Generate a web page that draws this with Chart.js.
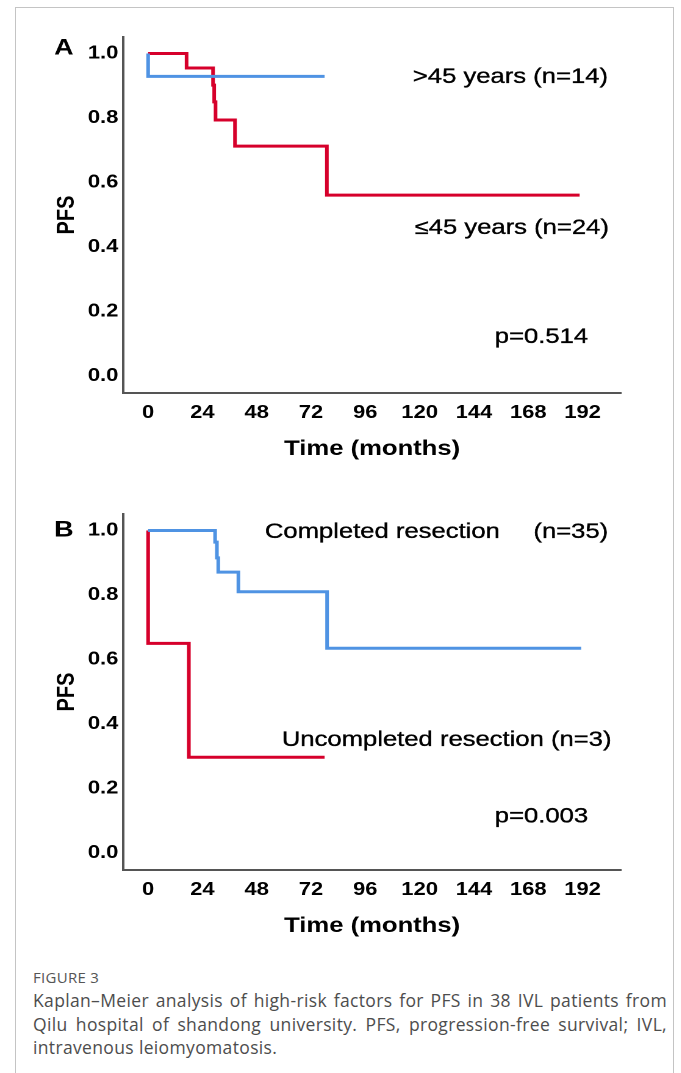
<!DOCTYPE html>
<html>
<head>
<meta charset="utf-8">
<script src="https://cdn.jsdelivr.net/npm/chart.js@4.4.1/dist/chart.umd.min.js"></script>
<style>
  body { margin:0; background:#fff; width:681px; height:1073px; overflow:hidden; position:relative; }
  #frame { position:absolute; left:15px; top:7px; width:659px; height:1200px; box-sizing:border-box; border:1px solid #c4c4c4; }
  .panel { position:absolute; left:0; transform:scaleX(1.22); transform-origin:0 0; }
  #panelA { top:0; }
  #panelB { top:477px; }
  #fig { position:absolute; left:33px; top:967px; font-family:"Open Sans", sans-serif; font-size:15px; color:#555; letter-spacing:0.3px; }
  #caption { position:absolute; left:33px; top:989px; width:634px; font-family:"Open Sans", sans-serif; font-size:17.5px; letter-spacing:0.35px; line-height:23.5px; color:#4d4d4d; }
  #caption div { text-align:justify; text-align-last:justify; white-space:nowrap; }
  #caption div.last { text-align-last:left; }
</style>
</head>
<body>
<div id="frame"></div>
<div class="panel" id="panelA"><canvas id="chartA" width="552" height="470"></canvas></div>
<div class="panel" id="panelB"><canvas id="chartB" width="552" height="470"></canvas></div>
<div id="fig">FIGURE 3</div>
<div id="caption">
  <div>Kaplan–Meier analysis of high-risk factors for PFS in 38 IVL patients from</div>
  <div>Qilu hospital of shandong university. PFS, progression-free survival; IVL,</div>
  <div class="last">intravenous leiomyomatosis.</div>
</div>
<script>
var xTicks = [0, 24, 48, 72, 96, 120, 144, 168, 192];
var yTicks = [0.0, 0.2, 0.4, 0.6, 0.8, 1.0];

// panel A - age
var olderMonths = [0, 0, 78];
var olderPfs = [1.0, 0.929, 0.929];
var youngerMonths = [0, 17, 28.7, 29.2, 29.8, 38.4, 79, 190.7];
var youngerPfs = [1.0, 0.955, 0.902, 0.85, 0.794, 0.713, 0.561, 0.561];

// panel B - resection
var completeMonths = [0, 29.6, 30.4, 31, 39.9, 79.1, 191.4];
var completePfs = [1.0, 0.964, 0.915, 0.871, 0.81, 0.635, 0.635];
var incompleteMonths = [0, 0, 18, 78];
var incompletePfs = [1.0, 0.65, 0.297, 0.297];

var BLUE = '#4f93e3';
var RED = '#d6002b';
var FONT = '"Liberation Sans", Arial, sans-serif';

function makeNotes(items) {
    return {
        id: 'notes',
        afterDraw: function(chart) {
            var ctx = chart.ctx;
            var xs = chart.scales.x, ys = chart.scales.y;
            ctx.save();
            ctx.fillStyle = '#000';
            ctx.strokeStyle = '#000';
            ctx.lineWidth = 0.35;
            ctx.textAlign = 'left';
            ctx.textBaseline = 'middle';
            items.forEach(function(n) {
                ctx.font = n.font;
                var px = xs.getPixelForValue(n.x), py = ys.getPixelForValue(n.y);
                ctx.fillText(n.text, px, py);
                if (!n.bold) ctx.strokeText(n.text, px, py);
            });
            ctx.restore();
        }
    };
}

function curve(months, pfs, color) {
    return {
        data: months.map(function(m, i) { return {x: m, y: pfs[i]}; }),
        borderColor: color,
        borderWidth: 3,
        stepped: true,
        pointRadius: 0,
        fill: false
    };
}

function kmChart(id, datasets, notes) {
    return new Chart(document.getElementById(id), {
        type: 'line',
        data: { datasets: datasets },
        options: {
            responsive: false,
            animation: false,
            devicePixelRatio: 2,
            layout: { padding: { top: 37, right: 43, bottom: 0, left: 0 } },
            plugins: { legend: { display: false }, tooltip: { enabled: false } },
            scales: {
                x: {
                    type: 'linear', min: -11, max: 209,
                    grid: { display: false, drawTicks: false },
                    border: { display: true, color: '#555', width: 2 },
                    afterBuildTicks: function(s) { s.ticks = xTicks.map(function(v) { return {value: v}; }); },
                    afterFit: function(s) { s.height = 77; },
                    ticks: { font: { family: FONT, size: 18, weight: 'bold' }, color: '#000', padding: 9, maxRotation: 0, autoSkip: false },
                    title: { display: true, text: 'Time (months)', font: { family: FONT, size: 21, weight: 'bold' }, color: '#000', padding: { top: 0, bottom: 8 } }
                },
                y: {
                    type: 'linear', min: -0.0527, max: 1.0512,
                    grid: { display: false, drawTicks: false },
                    border: { display: true, color: '#555', width: 2 },
                    afterBuildTicks: function(s) { s.ticks = yTicks.map(function(v) { return {value: v}; }); },
                    afterFit: function(s) { s.width = 101; },
                    ticks: { font: { family: FONT, size: 18, weight: 'bold' }, color: '#000', padding: 4, autoSkip: false,
                             callback: function(v) { return Number(v).toFixed(1); } },
                    title: { display: true, text: 'PFS', font: { family: FONT, size: 20, weight: 'bold' }, color: '#000', padding: { top: 43, bottom: 0 } }
                }
            }
        },
        plugins: [makeNotes(notes)]
    });
}

var noteFont = '21px ' + FONT;
var letterFont = 'bold 22px ' + FONT;

kmChart('chartA', [
    curve(olderMonths, olderPfs, BLUE),
    curve(youngerMonths, youngerPfs, RED)
], [
    { text: 'A', x: -41.5, y: 1.015, font: letterFont, bold: true },
    { text: '>45 years (n=14)', x: 117.0, y: 0.927, font: noteFont },
    { text: '≤45 years (n=24)', x: 117.8, y: 0.459, font: noteFont },
    { text: 'p=0.514', x: 153.2, y: 0.121, font: noteFont }
]);

kmChart('chartB', [
    curve(completeMonths, completePfs, BLUE),
    curve(incompleteMonths, incompletePfs, RED)
], [
    { text: 'B', x: -41.5, y: 1.0, font: letterFont, bold: true },
    { text: 'Completed resection', x: 51.6, y: 0.995, font: noteFont },
    { text: '(n=35)', x: 170.3, y: 0.995, font: noteFont },
    { text: 'Uncompleted resection (n=3)', x: 59.1, y: 0.350, font: noteFont },
    { text: 'p=0.003', x: 153.2, y: 0.112, font: noteFont }
]);
</script>
</body>
</html>
